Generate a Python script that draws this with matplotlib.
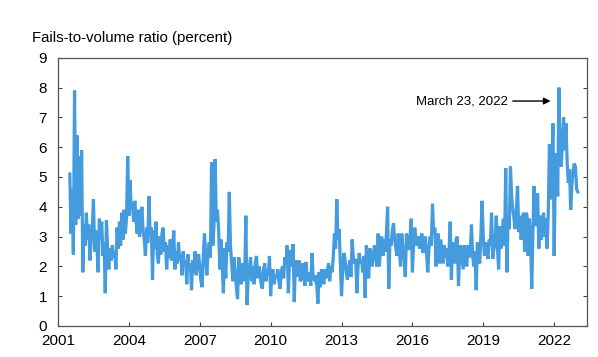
import numpy as np
import matplotlib
matplotlib.use("Agg")
import matplotlib.pyplot as plt

plt.rcParams['font.family'] = ['Liberation Sans', 'DejaVu Sans']

# Fails-to-volume ratio (percent), sampled every 0.05 year starting 2001.50
start_year = 2001.5
step = 0.05
v2001 = [5.1, 3.1, 4.6, 2.4, 7.9, 3.4, 6.4, 3.6, 5.7, 3.7]
v2002 = [5.9, 1.8, 3.4, 2.7, 3.8, 2.9, 3.4, 2.2, 2.9, 3.3, 4.25, 2.5, 3.2, 2.6, 1.8, 3.6, 2.9, 3.5, 2.35, 2.8]
v2003 = [1.1, 3.55, 2.6, 1.9, 2.6, 2.2, 2.7, 2.3, 2.5, 1.9, 3.3, 2.6, 3.5, 2.7, 3.8, 2.9, 3.9, 3.1, 3.6, 5.7]
v2004 = [3.7, 4.9, 3.9, 4.15, 3.5, 4.2, 3.6, 3.1, 3.9, 3.0, 3.4, 4.0, 3.2, 2.9, 2.35, 3.3, 2.8, 4.35, 3.0, 3.3]
v2005 = [1.55, 3.2, 2.6, 3.5, 2.4, 2.1, 3.0, 2.4, 3.1, 3.3, 2.5, 2.8, 1.9, 2.7, 2.3, 2.9, 2.2, 2.6, 3.2, 1.9]
v2006 = [2.5, 2.1, 2.8, 2.2, 2.4, 1.7, 2.5, 2.0, 2.2, 1.4, 2.4, 1.9, 2.1, 1.2, 2.2, 1.8, 2.5, 1.7, 2.1, 2.4]
v2007 = [2.0, 1.5, 1.3, 2.4, 3.1, 2.3, 1.7, 2.5, 2.8, 2.3, 5.5, 2.7, 3.3, 5.6, 3.5, 3.9, 3.2, 1.9, 2.9, 2.0]
v2008 = [1.1, 2.6, 1.6, 2.8, 2.5, 4.5, 2.7, 2.1, 1.5, 2.3, 1.8, 1.3, 0.9, 2.3, 1.9, 1.4, 2.1, 2.0, 1.5, 3.7]
v2009 = [0.7, 1.6, 1.9, 2.3, 1.5, 2.0, 1.4, 2.1, 2.35, 1.6, 2.0, 1.8, 1.4, 1.25, 1.9, 2.1, 1.5, 1.9, 1.7, 2.35]
v2010 = [1.0, 1.8, 1.9, 1.4, 1.7, 1.6, 1.9, 1.5, 1.25, 1.8, 2.0, 1.6, 2.3, 2.1, 2.7, 1.1, 2.2, 2.55, 2.0, 2.75]
v2011 = [0.8, 2.2, 1.9, 1.65, 2.2, 1.5, 1.6, 2.1, 1.7, 1.35, 2.15, 1.5, 1.8, 1.65, 1.35, 2.45, 1.6, 1.55, 1.7, 1.4]
v2012 = [0.75, 1.8, 1.3, 1.9, 1.7, 1.4, 1.9, 1.6, 1.8, 2.1, 1.5, 2.0, 1.8, 2.3, 3.1, 2.6, 4.25, 2.9, 3.25, 2.1]
v2013 = [1.0, 1.9, 2.45, 2.25, 1.8, 1.55, 1.9, 2.2, 1.65, 2.9, 2.3, 2.1, 2.25, 1.1, 2.0, 2.45, 2.1, 2.2, 1.8, 2.35]
v2014 = [0.95, 2.7, 2.2, 1.6, 2.6, 2.3, 2.0, 2.4, 2.7, 2.3, 2.0, 3.1, 2.0, 2.6, 3.0, 2.35, 2.9, 2.5, 3.1, 4.0]
v2015 = [1.25, 2.9, 2.7, 3.2, 3.45, 2.9, 2.6, 2.35, 3.1, 2.5, 2.0, 3.1, 2.6, 2.3, 1.65, 3.1, 2.8, 2.55, 3.0, 3.6]
v2016 = [1.8, 2.7, 3.3, 2.9, 2.7, 3.0, 2.6, 2.9, 3.1, 2.45, 2.8, 3.0, 2.4, 1.8, 2.6, 3.0, 2.7, 4.1, 3.1, 3.3]
v2017 = [2.0, 3.0, 3.1, 2.1, 2.9, 2.5, 2.1, 2.7, 2.3, 2.6, 2.0, 2.5, 3.5, 1.55, 2.8, 2.5, 2.1, 2.9, 3.0, 1.35]
v2018 = [2.4, 2.7, 2.3, 1.9, 2.7, 2.4, 2.0, 2.7, 2.3, 2.5, 3.4, 2.35, 2.0, 2.5, 1.2, 2.8, 2.4, 2.1, 3.1, 4.2]
v2019 = [3.0, 2.35, 2.8, 2.5, 2.25, 2.9, 2.7, 3.8, 2.25, 2.6, 2.8, 3.7, 2.6, 1.9, 3.35, 2.6, 3.0, 3.6, 2.7, 5.3]
v2020 = [1.8, 3.6, 3.25, 5.35, 4.35, 3.9, 3.6, 3.25, 3.9, 4.7, 3.15, 3.7, 2.9, 3.3, 3.8, 2.5, 3.8, 3.7, 2.35, 3.6]
v2021 = [3.0, 1.25, 3.1, 4.7, 3.35, 3.9, 4.45, 2.6, 3.7, 2.9, 3.4, 3.8, 3.0, 3.6, 2.6, 3.8, 6.1, 4.25, 5.4, 6.8]
v2022 = [2.35, 5.25, 5.8, 4.35, 8.0, 6.0, 5.35, 6.2, 7.0, 5.9, 6.8, 5.5, 4.8, 5.25, 3.9, 4.7, 5.2, 5.45, 5.35, 4.6]
v2023 = [4.5]

ratio = (v2001 + v2002 + v2003 + v2004 + v2005 + v2006 + v2007 + v2008 + v2009
         + v2010 + v2011 + v2012 + v2013 + v2014 + v2015 + v2016 + v2017 + v2018
         + v2019 + v2020 + v2021 + v2022 + v2023)
years = start_year + step * np.arange(len(ratio))

xticks = [2001, 2004, 2007, 2010, 2013, 2016, 2019, 2022]
yticks = list(range(0, 10))

fig = plt.figure(figsize=(5.98, 3.57), dpi=100)
ax = fig.add_axes([0.097, 0.087, 0.885, 0.751])
ax.plot(years, ratio, color='#449BDE', lw=2.3, solid_joinstyle='miter')

ax.set_xlim(2001, 2023.4)
ax.set_ylim(0, 9)
ax.set_xticks(xticks)
ax.set_xticklabels([str(x) for x in xticks])
ax.set_yticks(yticks)
ax.tick_params(axis='both', direction='in', labelsize=11, color='#444444',
               length=3, width=0.8, pad=6)
ax.tick_params(axis='y', right=True, pad=8)
for s in ax.spines.values():
    s.set_color('#555555')
    s.set_linewidth(0.9)

fig.text(0.054, 0.893, 'Fails-to-volume ratio (percent)', fontsize=10.8,
         ha='left', va='center')

ax.text(2020.05, 7.55, 'March 23, 2022', fontsize=9.5, ha='right', va='center')
ax.annotate('', xy=(2021.85, 7.55), xytext=(2020.25, 7.55),
            arrowprops=dict(arrowstyle='-|>', color='black', lw=1.0,
                            mutation_scale=10, shrinkA=0, shrinkB=0))

fig.savefig('out.png', dpi=100)
